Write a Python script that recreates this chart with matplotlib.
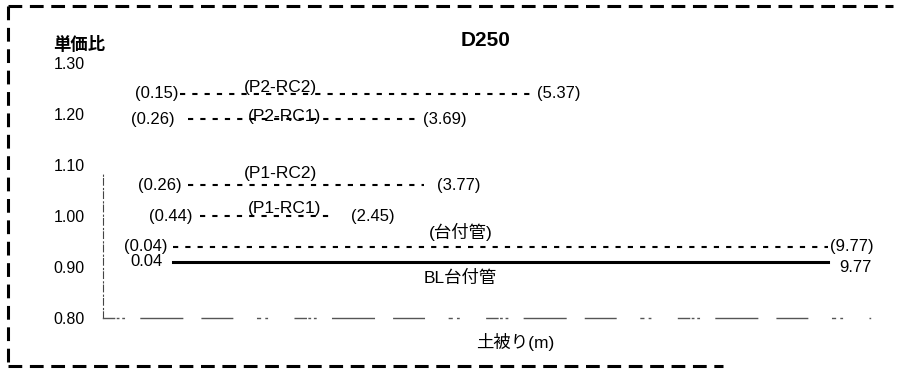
import matplotlib
matplotlib.use("Agg")
import matplotlib.pyplot as plt
from matplotlib.lines import Line2D

plt.rcParams['font.family'] = ['Liberation Sans', 'Noto Sans CJK JP', 'DejaVu Sans']

# データ
series = ["P2-RC2", "P2-RC1", "P1-RC2", "P1-RC1", "台付管", "BL台付管"]
ratio = [1.24, 1.19, 1.06, 1.00, 0.94, 0.91]
x_start = [0.15, 0.26, 0.26, 0.44, 0.04, 0.04]
x_end = [5.37, 3.69, 3.77, 2.45, 9.77, 9.77]
yticks = [0.80, 0.90, 1.00, 1.10, 1.20, 1.30]

# 描画スタイル（位置はピクセル）
dashed = [True, True, True, True, True, False]
name_x = [1.64, 1.70, 1.64, 1.70, 4.31, 4.31]
name_dy = [6, 3, 12, 7, 15, -16]
start_gap = [2, 13, 6, 7, 5, 10]
end_gap = [5, 4, 13, 16, 2, 12]
end_dy = [0, 0, 0, 0, 0, -6]

fig = plt.figure(figsize=(8.98, 3.74), dpi=100)
ax = fig.add_axes([103 / 898, 1 - 318 / 374, (870 - 103) / 898, (318 - 63) / 374])
ax.set_xlim(-1.0, 10.4)
ax.set_ylim(0.8, 1.3)

for i, name in enumerate(series):
    y = ratio[i]
    if dashed[i]:
        ax.plot([x_start[i], x_end[i]], [y, y], color='black', lw=1.5,
                linestyle=(0, (2.5, 3.4)))
        s_txt = "(%.2f)" % x_start[i]
        e_txt = "(%.2f)" % x_end[i]
        n_txt = "(%s)" % name
    else:
        ax.plot([x_start[i], x_end[i]], [y, y], color='black', lw=2.2)
        s_txt = "%.2f" % x_start[i]
        e_txt = "%.2f" % x_end[i]
        n_txt = name
    ax.annotate(s_txt, xy=(x_start[i], y), xytext=(-start_gap[i], 0),
                textcoords='offset pixels', ha='right', va='center', fontsize=12)
    ax.annotate(e_txt, xy=(x_end[i], y), xytext=(end_gap[i], end_dy[i]),
                textcoords='offset pixels', ha='left', va='center', fontsize=12)
    ax.annotate(n_txt, xy=(name_x[i], y), xytext=(0, name_dy[i]),
                textcoords='offset pixels', ha='center', va='center', fontsize=12.5)

ax.set_yticks(yticks)
ax.set_yticklabels(["%.2f" % t for t in yticks])
ax.set_xticks([])
ax.tick_params(axis='y', length=0, pad=13, labelsize=11.5)

for s in ['top', 'right']:
    ax.spines[s].set_visible(False)
ax.spines['left'].set_bounds(0.8, 1.085)
ax.spines['left'].set_linestyle((0, (6, 2, 1, 3)))
ax.spines['left'].set_linewidth(0.8)
ax.spines['left'].set_color('#444444')
ax.spines['bottom'].set_linestyle((0, (8, 2, 1, 3, 1, 12, 30, 14, 22, 18, 2, 4, 1, 20)))
ax.spines['bottom'].set_linewidth(1.0)
ax.spines['bottom'].set_color('#555555')

fig.text(486 / 898, 1 - 40 / 374, "D250", ha='center', va='center', fontsize=15, fontweight='bold')
fig.text(53 / 898, 1 - 45 / 374, "単価比", ha='left', va='center', fontsize=12.5, fontweight='bold')
fig.text(515 / 898, 1 - 342 / 374, "土被り(m)", ha='center', va='center', fontsize=12.5)

# 外枠（破線）
W, H = 898, 374
border = dict(color='black', lw=2.2, linestyle=(0, (4.5, 2.5)), transform=fig.transFigure)
fig.add_artist(Line2D([8 / W, 893 / W], [1 - 6 / H, 1 - 6 / H], **border))
fig.add_artist(Line2D([8 / W, 8 / W], [1 - 6 / H, 1 - 366 / H], **border))
fig.add_artist(Line2D([8 / W, 723 / W], [1 - 366 / H, 1 - 366 / H], **border))

fig.savefig("out.png", dpi=100)
